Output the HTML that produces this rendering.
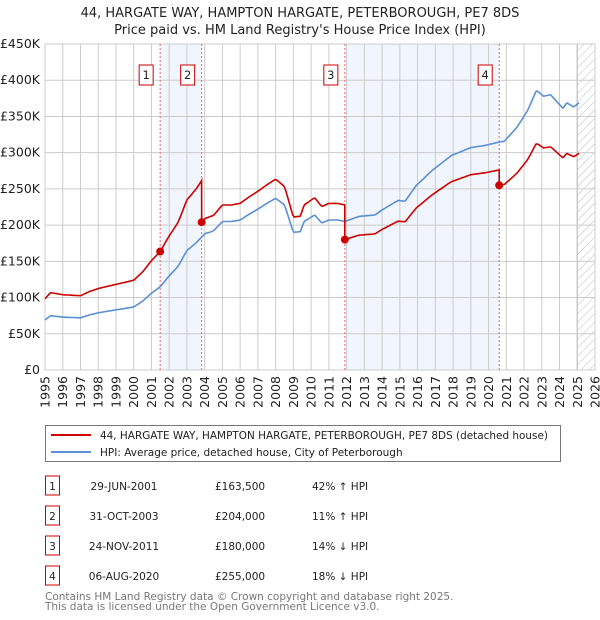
<!DOCTYPE html>
<html><head><meta charset="utf-8"><style>
body{margin:0;background:#fff;width:600px;height:620px;overflow:hidden;font-family:"DejaVu Sans","Liberation Sans",sans-serif}
svg{display:block}
</style></head><body>
<svg id="chart" width="600" height="620" font-family="DejaVu Sans, Liberation Sans, sans-serif">
<defs><pattern id="hatch" width="6" height="6" patternUnits="userSpaceOnUse" patternTransform="rotate(45)"><line x1="0" y1="0" x2="0" y2="6" stroke="#bbb" stroke-width="1"/></pattern></defs>
<text x="300" y="17" text-anchor="middle" font-size="13" fill="#222">44, HARGATE WAY, HAMPTON HARGATE, PETERBOROUGH, PE7 8DS</text>
<text x="300" y="34" text-anchor="middle" font-size="13" fill="#222">Price paid vs. HM Land Registry's House Price Index (HPI)</text>
<g id="plot"></g>
<g>
<rect x="45.5" y="425.5" width="515" height="36" fill="#fff" stroke="#777"/>
<line x1="51" y1="435" x2="91" y2="435" stroke="#cc0000" stroke-width="2"/>
<text x="100" y="439" font-size="10.5" fill="#222" textLength="448" lengthAdjust="spacingAndGlyphs">44, HARGATE WAY, HAMPTON HARGATE, PETERBOROUGH, PE7 8DS (detached house)</text>
<line x1="51" y1="452" x2="91" y2="452" stroke="#5b8fd4" stroke-width="2"/>
<text x="100" y="456" font-size="10.5" fill="#222">HPI: Average price, detached house, City of Peterborough</text>
</g>
<g id="table" font-size="10.5" fill="#222"></g>
<text x="45" y="600" font-size="10.5" fill="#777">Contains HM Land Registry data © Crown copyright and database right 2025.</text>
<text x="45" y="610" font-size="10.5" fill="#777">This data is licensed under the Open Government Licence v3.0.</text>
</svg>
<script>
const hpiYears=[1995,1995.3,1996,1997,1997.5,1998,1999,2000,2000.5,2001,2001.5,2002,2002.5,2003,2003.5,2004,2004.5,2005,2005.5,2006,2006.5,2007,2007.5,2008,2008.5,2009,2009.4,2009.6,2010.2,2010.6,2011,2011.5,2011.9,2012.7,2013.6,2014,2014.9,2015.3,2015.9,2016.8,2017.9,2019,2019.8,2020.5,2020.9,2021.6,2022.2,2022.7,2023.1,2023.5,2024.2,2024.4,2024.8,2025.1];
const hpiValues=[69000,75000,73000,72000,76000,79000,83000,87000,95000,106000,115000,130000,143000,165000,175000,188000,192000,205000,205000,207000,215000,222000,230000,237000,228000,190000,191000,205000,214000,203000,207000,207000,205000,212000,214000,221000,234000,233000,254000,275000,296000,307000,310000,314000,316000,335000,358000,386000,378000,380000,361000,369000,363000,369000];
const saleLabels=["1","2","3","4"];
const saleYears=[2001.49,2003.83,2011.9,2020.6];
const salePrices=[163500,204000,180000,255000];
const saleDates=["29-JUN-2001","31-OCT-2003","24-NOV-2011","06-AUG-2020"];
const salePriceText=["£163,500","£204,000","£180,000","£255,000"];
const saleHpiText=["42% ↑ HPI","11% ↑ HPI","14% ↓ HPI","18% ↓ HPI"];
const yTicks=[0,50000,100000,150000,200000,250000,300000,350000,400000,450000];
const yTickLabels=["£0","£50K","£100K","£150K","£200K","£250K","£300K","£350K","£400K","£450K"];
const xTicks=[1995,1996,1997,1998,1999,2000,2001,2002,2003,2004,2005,2006,2007,2008,2009,2010,2011,2012,2013,2014,2015,2016,2017,2018,2019,2020,2021,2022,2023,2024,2025,2026];

const X0=45,X1=595,Y0=370,Y1=44;
const xs=y=>X0+(y-1995)/(2026-1995)*(X1-X0);
const ys=v=>Y0-v/450000*(Y0-Y1);
const NS="http://www.w3.org/2000/svg";
const plot=document.getElementById('plot');
function mk(tag,attrs,parent){const e=document.createElementNS(NS,tag);for(const k in attrs)e.setAttribute(k,attrs[k]);(parent||plot).appendChild(e);return e;}
function hpiAt(t){if(t<=hpiYears[0])return hpiValues[0];for(let i=1;i<hpiYears.length;i++){if(t<=hpiYears[i]){const f=(t-hpiYears[i-1])/(hpiYears[i]-hpiYears[i-1]);return hpiValues[i-1]+f*(hpiValues[i]-hpiValues[i-1]);}}return hpiValues[hpiValues.length-1];}

let e;
e=mk('rect',{x:X0,y:Y1,width:X1-X0,height:Y0-Y1,fill:'#fff'});


for(let i=0;i<saleYears.length;i+=2){
 const a=saleYears[i],b=saleYears[i+1];
 e=mk('rect',{x:xs(a),y:Y1,width:xs(b)-xs(a),height:Y0-Y1,fill:'#eef3fc',opacity:0.8});
 
 
}
e=mk('rect',{x:xs(2025.0),y:Y1,width:X1-xs(2025.0),height:Y0-Y1,fill:'url(#hatch)'});


mk('line',{x1:xs(2025.0),y1:Y1,x2:xs(2025.0),y2:Y0,stroke:'#888','stroke-width':1});
yTicks.forEach((v,i)=>{
 e=mk('line',{x1:X0,x2:X1,y1:ys(v),y2:ys(v),stroke:'#ccc','stroke-width':1});
 
 
 e=mk('text',{x:X0-5,y:ys(v)+4,'text-anchor':'end','font-size':12.5,fill:'#222'});
 e.textContent=yTickLabels[i];
 
 
});
xTicks.forEach(t=>{
 e=mk('line',{x1:xs(t),x2:xs(t),y1:Y1,y2:Y0,stroke:'#ccc','stroke-width':1});
 
 
 e=mk('text',{x:0,y:0,'text-anchor':'end','font-size':12.5,fill:'#222',transform:`translate(${xs(t)+4.5},${Y0+6}) rotate(-90)`});
 e.textContent=String(t);
 
 
});
mk('rect',{x:X0,y:Y1,width:X1-X0,height:Y0-Y1,fill:'none',stroke:'#ccc'});
saleYears.forEach((t,i)=>{
 e=mk('line',{x1:xs(t),x2:xs(t),y1:Y1,y2:Y0,stroke:'#e66','stroke-width':1,'stroke-dasharray':'2,2'});
 
 
 e=mk('rect',{x:xs(t)-21,y:65,width:14,height:20,fill:'#fff',stroke:'#c00'});
 
 
 e=mk('text',{x:xs(t)-14,y:79,'text-anchor':'middle','font-size':11.5,fill:'#222'});
 e.textContent=saleLabels[i];
 
 
});
let d='';
const T0=1995,T1=2025.1,steps=361;
for(let k=0;k<steps;k++){const t=T0+(T1-T0)*k/(steps-1);d+=(k?'L':'M')+xs(t).toFixed(1)+','+ys(hpiAt(t)).toFixed(1);}
e=mk('path',{d:d,fill:'none',stroke:'#5b8fd4','stroke-width':1.6});


function propAt(t){let i=0;for(let j=0;j<saleYears.length;j++)if(t>=saleYears[j])i=j;return hpiAt(t)*salePrices[i]/hpiAt(saleYears[i]);}
d='';
const pts=[];
for(let k=0;k<steps;k++)pts.push(T0+(T1-T0)*k/(steps-1));
saleYears.forEach(s=>{pts.push(s-0.001);pts.push(s);});
pts.sort((a,b)=>a-b);
pts.forEach((t,k)=>{d+=(k?'L':'M')+xs(t).toFixed(1)+','+ys(propAt(t)).toFixed(1);});
e=mk('path',{d:d,fill:'none',stroke:'#cc0000','stroke-width':1.6});


saleYears.forEach((t,i)=>{
 e=mk('circle',{cx:xs(t),cy:ys(salePrices[i]),r:4,fill:'#cc0000'});
 
 
});
const tbl=document.getElementById('table');
saleLabels.forEach((l,i)=>{
 const y=486+i*30;
 e=mk('rect',{x:45.5,y:y-10,width:14,height:19,fill:'#fff',stroke:'#c00'},tbl);
 
 
 e=mk('text',{x:52.5,y:y+4},tbl);e.setAttribute('text-anchor','middle');e.textContent=l;
 
 
 e=mk('text',{x:124,y:y+4,'text-anchor':'middle'},tbl);e.textContent=saleDates[i];
 
 
 e=mk('text',{x:215,y:y+4},tbl);e.textContent=salePriceText[i];
 
 
 e=mk('text',{x:312,y:y+4},tbl);e.textContent=saleHpiText[i];
 
 
});
</script>
</body></html>
